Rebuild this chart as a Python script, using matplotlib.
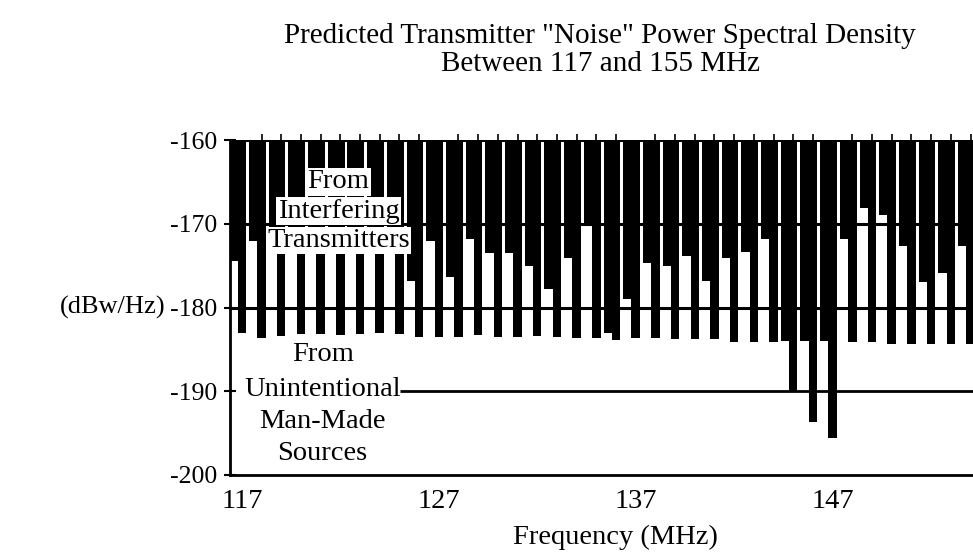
import numpy as np
import matplotlib
matplotlib.use("Agg")
from matplotlib import pyplot as plt
import matplotlib.transforms as mtransforms

plt.rcParams['font.family'] = ['Liberation Serif', 'DejaVu Serif']

# channel centre frequencies (MHz)
freq = np.arange(117, 156)
# level where the wide part of each channel's noise skirt ends (dBw/Hz)
step_level = [-174.4, -172.0, -172.0, -172.0, -172.0, -172.0, -172.0, -172.0, -172.0,
              -176.8, -172.0, -176.4, -171.8, -173.5, -173.5, -175.0, -177.8, -174.1,
              -170.3, -183.0, -179.0, -174.7, -175.0, -173.8, -176.8, -174.1, -173.4,
              -171.8, -184.0, -184.0, -184.0, -171.8, -168.1, -168.9, -172.7, -176.9,
              -175.9, -172.7, -174.0]
# bottom of the narrow line for each channel (dBw/Hz)
line_bottom = [-183.0, -183.6, -183.4, -183.2, -183.2, -183.3, -183.2, -183.0, -183.2,
               -183.5, -183.5, -183.5, -183.3, -183.5, -183.5, -183.4, -183.5, -183.6,
               -183.6, -183.9, -183.6, -183.6, -183.7, -183.7, -183.7, -184.1, -184.1,
               -184.1, -190.0, -193.7, -195.6, -184.1, -184.1, -184.3, -184.3, -184.3,
               -184.3, -184.3, -184.3]
top_level = -160
manmade_level = -190

yticks = [-200, -190, -180, -170, -160]
ytick_labels = ['-200', '-190', '-180', '-170', '-160']
xticks = [117, 127, 137, 147]
xtick_labels = ['117', '127', '137', '147']

fs = 20.5
fig = plt.figure(figsize=(9.73, 5.6), dpi=100)
ax = fig.add_axes([0.2364, 0.1518, 0.7914, 0.598])
xmin, xmax = 116.4, 155.5
ax.set_xlim(xmin, xmax)
ax.set_ylim(-200, -160)

bw = 0.43   # narrow line width
sw = 0.15   # white slit width
step_level = np.array(step_level)
line_bottom = np.array(line_bottom)

# narrow lines
ax.bar(freq, line_bottom - top_level, bottom=top_level, width=bw,
       color='black', linewidth=0, zorder=2)
# wider skirt to the left of each line
ext_left = np.r_[xmin, freq[:-1] + bw / 2 + sw]
ext_w = freq - bw / 2 - ext_left + 0.02
ax.bar(ext_left, step_level - top_level, bottom=top_level, width=ext_w,
       align='edge', color='black', linewidth=0, zorder=2)

# reference lines
for lev in [-160, -170, -180]:
    ax.axhline(lev, color='black', lw=2.2, zorder=3)
ax.hlines(manmade_level, 125.05, xmax, color='black', lw=2.0, zorder=3)

# annotations
tp = dict(ha='center', va='center', fontsize=fs, zorder=5)
box = dict(facecolor='white', edgecolor='none', pad=1.0)
ax.text(121.9, -165.0, 'From', bbox=box, **tp)
ax.text(121.9, -168.5, 'Interfering', bbox=box, **tp)
ax.text(121.9, -172.0, 'Transmitters', bbox=box, **tp)

ax.text(121.1, -185.6, 'From', **tp)
ax.text(121.1, -189.8, 'Unintentional', **tp)
ax.text(121.1, -193.6, 'Man-Made', **tp)
ax.text(121.1, -197.4, 'Sources', **tp)

ax.set_yticks(yticks)
ax.set_yticklabels(ytick_labels, fontsize=18.5)
ax.set_xticks(xticks)
ax.set_xticklabels(xtick_labels, fontsize=fs)
ax.set_xticks(freq, minor=True)
ax.tick_params(axis='y', direction='inout', length=9, width=1.5, pad=5)
ax.tick_params(axis='x', which='major', length=0, pad=10)
ax.tick_params(axis='x', which='minor', top=True, bottom=False,
               direction='out', length=4, width=1.2)

for s in ['top', 'right']:
    ax.spines[s].set_visible(False)
ax.spines['left'].set_linewidth(2)
ax.spines['bottom'].set_linewidth(2)

ax.set_xlabel('Frequency (MHz)', fontsize=fs, labelpad=8)
trans = mtransforms.blended_transform_factory(ax.transAxes, ax.transData)
ax.text(-0.152, -180, '(dBw/Hz)', transform=trans, ha='center', va='center',
        fontsize=19)

fig.text(0.617, 1 - 36 / 560, 'Predicted Transmitter "Noise" Power Spectral Density',
         ha='center', va='center', fontsize=21)
fig.text(0.617, 1 - 64 / 560, 'Between 117 and 155 MHz',
         ha='center', va='center', fontsize=21)

plt.savefig('out.png', dpi=100)
